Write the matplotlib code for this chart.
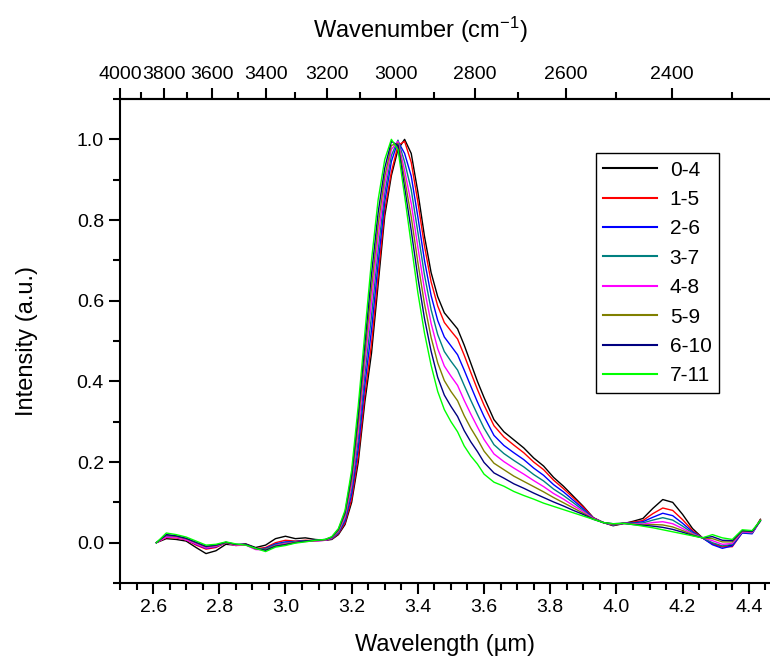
import matplotlib
matplotlib.use("Agg")
import matplotlib.pyplot as plt
from matplotlib.ticker import MultipleLocator

plt.rcParams['font.family'] = ['Liberation Sans', 'DejaVu Sans']
plt.rcParams['mathtext.default'] = 'regular'

# wavelength grid (um)
wavelength = [2.61, 2.64, 2.67, 2.70, 2.73, 2.76, 2.79, 2.82, 2.85, 2.88, 2.91, 2.94, 2.97, 3.00,
              3.03, 3.06, 3.09, 3.12,
              3.14, 3.16, 3.18, 3.20, 3.22, 3.24, 3.26, 3.28, 3.30, 3.32, 3.34, 3.36, 3.38, 3.40,
              3.42, 3.44, 3.46, 3.48, 3.50, 3.52, 3.54, 3.56, 3.58, 3.60,
              3.63, 3.66, 3.69, 3.72, 3.75, 3.78, 3.81, 3.84, 3.87, 3.90, 3.93, 3.96, 3.99, 4.02,
              4.05, 4.08, 4.11, 4.14, 4.17, 4.20, 4.23, 4.26, 4.29, 4.32, 4.35, 4.38, 4.41, 4.435]

s_0_4 = [0.0, 0.01, 0.008, 0.004, -0.012, -0.027, -0.02, -0.004, -0.006, -0.003, -0.012, -0.006, 0.01, 0.016,
         0.01, 0.012, 0.008, 0.006,
         0.008, 0.02, 0.045, 0.10, 0.20, 0.35, 0.47, 0.64, 0.81, 0.91, 0.975, 1.0, 0.965, 0.87,
         0.76, 0.67, 0.61, 0.57, 0.55, 0.53, 0.49, 0.445, 0.40, 0.36,
         0.305, 0.275, 0.255, 0.235, 0.21, 0.19, 0.162, 0.14, 0.115, 0.09, 0.062, 0.05, 0.042, 0.047,
         0.053, 0.06, 0.085, 0.107, 0.1, 0.07, 0.035, 0.012, -0.003, -0.01, -0.006, 0.028, 0.024, 0.058]

s_1_5 = [0.0, 0.013, 0.012, 0.007, -0.006, -0.016, -0.012, 0.0, -0.007, -0.004, -0.015, -0.012, 0.0, 0.006,
         0.004, 0.006, 0.005, 0.006,
         0.009, 0.022, 0.049, 0.108, 0.214, 0.367, 0.493, 0.661, 0.824, 0.919, 0.985, 0.995, 0.943, 0.845,
         0.736, 0.647, 0.587, 0.546, 0.525, 0.505, 0.465, 0.422, 0.38, 0.341,
         0.29, 0.262, 0.242, 0.223, 0.2, 0.181, 0.155, 0.134, 0.111, 0.088, 0.062, 0.05, 0.043, 0.048,
         0.051, 0.055, 0.072, 0.086, 0.08, 0.057, 0.03, 0.012, -0.003, -0.01, -0.01, 0.025, 0.024, 0.057]

s_2_6 = [0.0, 0.018, 0.014, 0.008, -0.004, -0.014, -0.01, 0.0, -0.006, -0.005, -0.016, -0.014, -0.003, 0.002,
         0.003, 0.005, 0.005, 0.006,
         0.01, 0.024, 0.054, 0.12, 0.235, 0.392, 0.527, 0.692, 0.845, 0.945, 0.995, 0.965, 0.909, 0.808,
         0.70, 0.613, 0.551, 0.51, 0.488, 0.466, 0.428, 0.388, 0.349, 0.313,
         0.266, 0.241, 0.223, 0.206, 0.185, 0.167, 0.144, 0.126, 0.105, 0.084, 0.061, 0.05, 0.044, 0.048,
         0.049, 0.052, 0.063, 0.073, 0.067, 0.048, 0.027, 0.012, -0.005, -0.014, -0.008, 0.024, 0.022, 0.055]

s_3_7 = [0.0, 0.016, 0.015, 0.009, -0.002, -0.012, -0.008, 0.001, -0.005, -0.005, -0.015, -0.016, -0.005, 0.0,
         0.002, 0.004, 0.006, 0.007,
         0.011, 0.026, 0.059, 0.132, 0.256, 0.418, 0.562, 0.724, 0.866, 0.96, 0.998, 0.944, 0.875, 0.77,
         0.664, 0.578, 0.516, 0.474, 0.45, 0.428, 0.39, 0.353, 0.318, 0.284,
         0.243, 0.221, 0.204, 0.188, 0.169, 0.153, 0.133, 0.117, 0.099, 0.08, 0.06, 0.05, 0.044, 0.048,
         0.048, 0.049, 0.056, 0.062, 0.056, 0.041, 0.024, 0.012, 0.0, -0.008, -0.004, 0.026, 0.024, 0.055]

s_4_8 = [0.0, 0.014, 0.013, 0.007, -0.003, -0.013, -0.009, 0.0, -0.007, -0.006, -0.017, -0.018, -0.007, -0.002,
         0.001, 0.003, 0.004, 0.006,
         0.012, 0.028, 0.064, 0.144, 0.277, 0.444, 0.597, 0.756, 0.887, 0.975, 0.995, 0.923, 0.841, 0.733,
         0.628, 0.544, 0.481, 0.438, 0.413, 0.39, 0.353, 0.319, 0.287, 0.256,
         0.22, 0.201, 0.185, 0.17, 0.154, 0.139, 0.122, 0.108, 0.092, 0.077, 0.06, 0.05, 0.045, 0.048,
         0.047, 0.046, 0.05, 0.052, 0.047, 0.035, 0.022, 0.012, 0.005, -0.004, -0.002, 0.027, 0.025, 0.054]

s_5_9 = [0.0, 0.019, 0.016, 0.01, 0.0, -0.01, -0.007, 0.0, -0.005, -0.005, -0.015, -0.017, -0.008, -0.004,
         0.001, 0.004, 0.005, 0.007,
         0.013, 0.03, 0.07, 0.156, 0.298, 0.469, 0.631, 0.787, 0.908, 0.985, 0.99, 0.902, 0.808, 0.695,
         0.592, 0.509, 0.446, 0.402, 0.375, 0.352, 0.315, 0.284, 0.257, 0.227,
         0.197, 0.181, 0.165, 0.152, 0.139, 0.126, 0.112, 0.099, 0.086, 0.073, 0.059, 0.05, 0.046, 0.048,
         0.046, 0.044, 0.045, 0.044, 0.039, 0.03, 0.02, 0.012, 0.01, 0.002, 0.002, 0.029, 0.027, 0.054]

s_6_10 = [0.0, 0.02, 0.017, 0.011, 0.001, -0.009, -0.006, 0.001, -0.004, -0.004, -0.014, -0.019, -0.009, -0.005,
          0.0, 0.004, 0.006, 0.008,
          0.014, 0.033, 0.075, 0.168, 0.319, 0.494, 0.666, 0.818, 0.929, 0.995, 0.985, 0.881, 0.774, 0.658,
          0.556, 0.475, 0.41, 0.366, 0.338, 0.313, 0.278, 0.25, 0.226, 0.199,
          0.173, 0.16, 0.146, 0.135, 0.123, 0.112, 0.101, 0.091, 0.08, 0.07, 0.058, 0.05, 0.047, 0.048,
          0.045, 0.043, 0.041, 0.038, 0.033, 0.026, 0.018, 0.012, 0.015, 0.006, 0.005, 0.03, 0.028, 0.054]

s_7_11 = [0.0, 0.024, 0.02, 0.014, 0.004, -0.006, -0.004, 0.002, -0.003, -0.006, -0.014, -0.022, -0.011, -0.007,
          -0.001, 0.002, 0.006, 0.008,
          0.015, 0.035, 0.08, 0.18, 0.34, 0.52, 0.70, 0.85, 0.95, 1.0, 0.975, 0.86, 0.74, 0.62,
          0.52, 0.44, 0.375, 0.33, 0.30, 0.275, 0.24, 0.215, 0.195, 0.17,
          0.15, 0.14, 0.127, 0.117, 0.108, 0.098, 0.09, 0.082, 0.074, 0.066, 0.058, 0.05, 0.047, 0.048,
          0.045, 0.041, 0.037, 0.032, 0.027, 0.022, 0.017, 0.012, 0.02, 0.012, 0.008, 0.032, 0.03, 0.055]

labels = ['0-4', '1-5', '2-6', '3-7', '4-8', '5-9', '6-10', '7-11']
series = [s_0_4, s_1_5, s_2_6, s_3_7, s_4_8, s_5_9, s_6_10, s_7_11]
colors = ['#000000', '#ff0000', '#0000ff', '#008080', '#ff00ff', '#808000', '#000080', '#00ff00']

wn_major = [4000, 3800, 3600, 3400, 3200, 3000, 2800, 2600, 2400]
wn_minor = [3900, 3700, 3500, 3300, 3100, 2900, 2700, 2500, 2300]

fig = plt.figure(figsize=(7.7, 6.57), dpi=100)
ax = fig.add_axes([0.1558, 0.1126, 0.8442, 0.7367])

for y, lab, c in zip(series, labels, colors):
    ax.plot(wavelength, y, color=c, lw=1.0, label=lab)

ax.set_xlim(2.5, 4.464)
ax.set_ylim(-0.1, 1.1)
ax.xaxis.set_major_locator(MultipleLocator(0.2))
ax.xaxis.set_minor_locator(MultipleLocator(0.05))
ax.yaxis.set_major_locator(MultipleLocator(0.2))
ax.yaxis.set_minor_locator(MultipleLocator(0.1))
ax.xaxis.set_major_formatter(plt.FormatStrFormatter('%.1f'))
ax.yaxis.set_major_formatter(plt.FormatStrFormatter('%.1f'))
ax.tick_params(which='both', direction='out', width=1.5, labelsize=14)
ax.tick_params(which='major', length=8)
ax.tick_params(which='minor', length=5)
ax.spines['right'].set_visible(False)
for s in ['left', 'bottom', 'top']:
    ax.spines[s].set_linewidth(1.5)

ax.set_xlabel('Wavelength (µm)', fontsize=17, labelpad=13)
ax.set_ylabel('Intensity (a.u.)', fontsize=17, labelpad=28)

# top wavenumber axis
ax2 = ax.twiny()
ax2.set_xlim(ax.get_xlim())
ax2.set_xticks([1e4 / w for w in wn_major])
ax2.set_xticklabels([str(w) for w in wn_major])
ax2.set_xticks([1e4 / w for w in wn_minor], minor=True)
ax2.tick_params(which='both', direction='out', width=1.5, labelsize=14)
ax2.tick_params(which='major', length=8)
ax2.tick_params(which='minor', length=5)
for s in ['right', 'left', 'bottom']:
    ax2.spines[s].set_visible(False)
ax2.spines['top'].set_linewidth(1.5)
ax2.set_xlabel('Wavenumber (cm$^{-1}$)', fontsize=17, labelpad=20)
ax2.xaxis.label.set_x(0.4615)

leg = ax.legend(loc='upper left', bbox_to_anchor=(0.732, 0.888), fontsize=15,
                frameon=True, fancybox=False, edgecolor='black', framealpha=1,
                handlelength=2.6, handletextpad=0.6, labelspacing=0.5,
                borderpad=0.35, borderaxespad=0)
leg.get_frame().set_linewidth(1.0)
for h in leg.get_lines():
    h.set_linewidth(1.5)

fig.savefig('out.png', dpi=100)
